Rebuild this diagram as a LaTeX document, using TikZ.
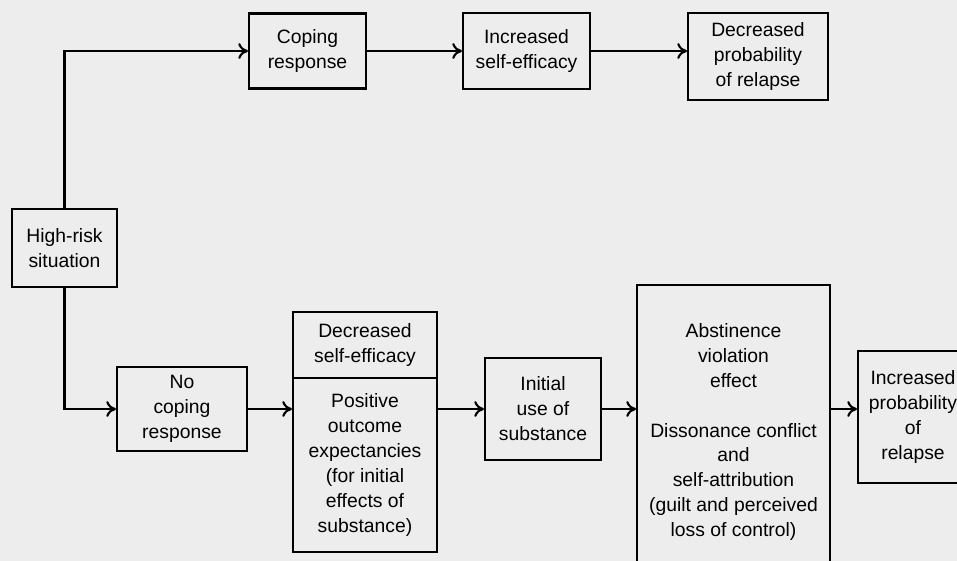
\documentclass[tikz,border=0pt]{standalone}
\usepackage{fontspec}
\setmainfont{Liberation Sans}
\usetikzlibrary{positioning,arrows.meta}

\begin{document}
\begin{tikzpicture}[x=0.02cm, y=-0.02cm,
    box/.style={draw, line width=1.2pt, align=center, inner sep=2pt,
                font=\fontsize{11}{14.2}\selectfont},
    arrow/.style={-{To[length=5.5pt,width=9pt,line width=1.2pt]}, line width=1.3pt}]

    \useasboundingbox (0,0) rectangle (957,561);
    \clip (0,0) rectangle (957,561);
    \fill[black!7] (0,0) rectangle (957,561);

    % upper path
    \node[box, minimum width=2.1cm, minimum height=1.56cm] (risk) at (64.5,248) {High-risk\\situation};
    \node[box, minimum width=2.34cm, minimum height=1.5cm] (cope) at (307.5,51) {Coping\\response};
    \node[box, minimum width=2.54cm, minimum height=1.52cm] (selfup) at (526.5,51) {Increased\\self-efficacy};
    \node[box, minimum width=2.8cm, minimum height=1.74cm] (lowrel) at (758,56.5) {Decreased\\probability\\of relapse};

    % lower path
    \node[box, minimum width=2.6cm, minimum height=1.68cm] (nocope) at (182,409) {No\\coping\\response};
    \node[box, minimum width=2.88cm, minimum height=1.32cm] (selfdown) at (365,345) {Decreased\\self-efficacy};
    \node[box, minimum width=2.88cm, minimum height=3.48cm] (outcome) at (365,465) {Positive\\outcome\\expectancies\\(for initial\\effects of\\substance)};
    \node[box, minimum width=2.32cm, minimum height=2.04cm] (use) at (543,409) {Initial\\use of\\substance};
    \node[box, minimum width=3.86cm, minimum height=5.88cm] (ave) at (733.5,432) {Abstinence\\violation\\effect\\[14.2pt]Dissonance conflict\\and\\self-attribution\\(guilt and perceived\\loss of control)};
    \node[box, minimum width=2.2cm, minimum height=2.64cm] (highrel) at (913,417) {Increased\\probability\\of\\relapse};

    \draw[arrow] (risk.north) |- (cope.west);
    \draw[arrow] (cope.east) -- (selfup.west);
    \draw[arrow] (selfup.east) -- (selfup.east -| lowrel.west);

    \draw[arrow] (risk.south) |- (nocope.west);
    \draw[arrow] (nocope.east) -- (nocope.east -| outcome.west);
    \draw[arrow] (use.west -| outcome.east) -- (use.west);
    \draw[arrow] (use.east) -- (use.east -| ave.west);
    \draw[arrow] (use.east -| ave.east) -- (use.east -| highrel.west);
\end{tikzpicture}
\end{document}
